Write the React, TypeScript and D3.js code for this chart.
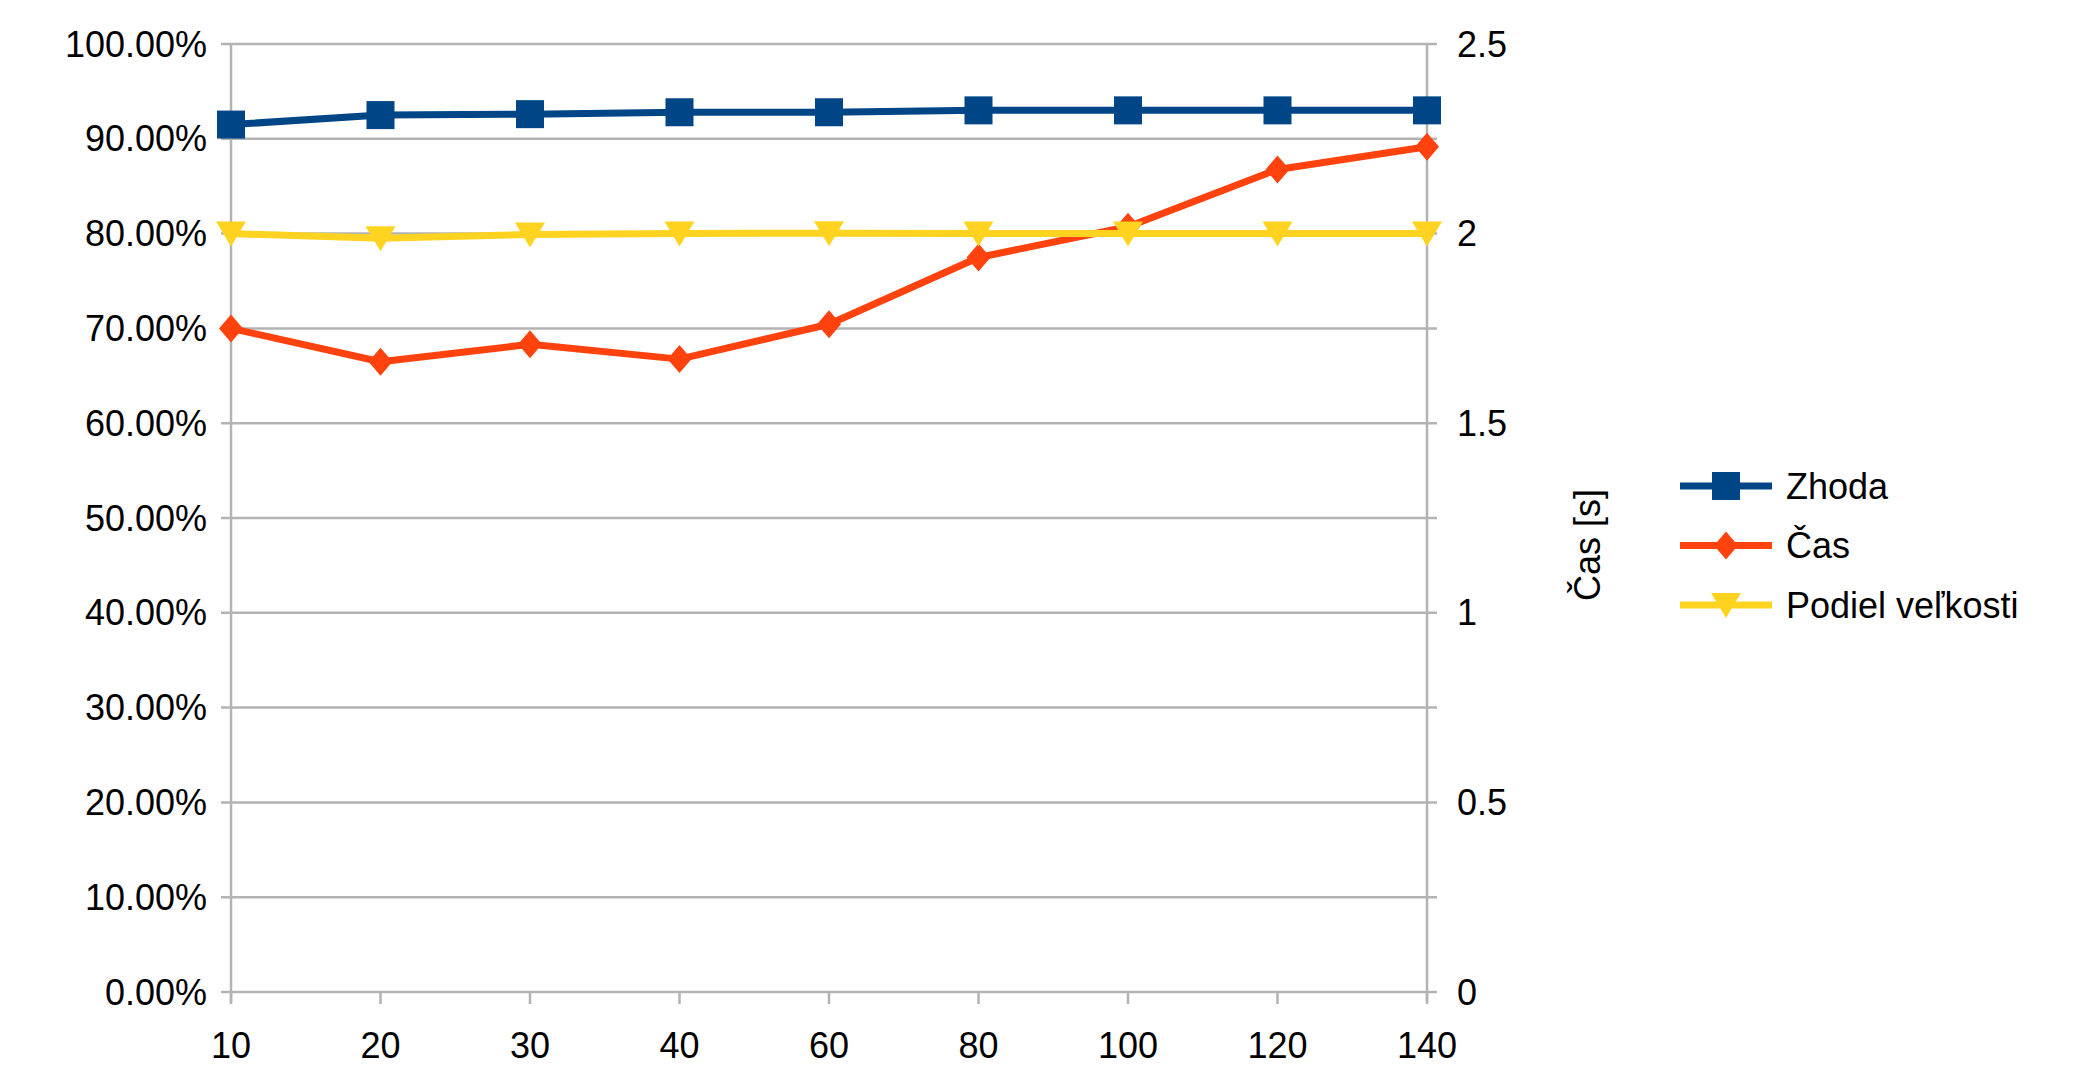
import React from 'react';
import * as d3 from 'd3';

const categories = ['10', '20', '30', '40', '60', '80', '100', '120', '140'];
const zhoda = [91.5, 92.5, 92.6, 92.8, 92.8, 93.0, 93.0, 93.0, 93.0];
const cas = [1.75, 1.662, 1.708, 1.669, 1.761, 1.937, 2.018, 2.169, 2.229];
const podiel = [80.0, 79.5, 79.9, 80.0, 80.05, 80.0, 80.0, 80.0, 80.0];
const leftTicks = [0, 10, 20, 30, 40, 50, 60, 70, 80, 90, 100];
const rightTicks = [0, 0.5, 1, 1.5, 2, 2.5];

const W = 2083, H = 1085;
const L = 231, R = 1427, T = 44, B = 992;
const font = 'Liberation Sans, Arial, sans-serif';
const grid = '#b3b3b3';

const App: React.FC = () => {
  const x = d3.scalePoint<string>().domain(categories).range([L, R]);
  const yl = d3.scaleLinear().domain([0, 100]).range([B, T]);
  const yr = d3.scaleLinear().domain([0, 2.5]).range([B, T]);
  const line = d3.line<number>().x((_, i) => x(categories[i])!);

  const square = (cx: number, cy: number, c: string, k: string) => (
    <rect key={k} x={cx - 14} y={cy - 14} width={28} height={28} fill={c} />
  );
  const diamond = (cx: number, cy: number, c: string, k: string) => (
    <path key={k} d={`M${cx},${cy - 14}L${cx + 12},${cy}L${cx},${cy + 14}L${cx - 12},${cy}Z`} fill={c} />
  );
  const tri = (cx: number, cy: number, c: string, k: string) => (
    <path key={k} d={`M${cx - 15},${cy - 12}L${cx + 15},${cy - 12}L${cx},${cy + 13}Z`} fill={c} />
  );

  const series = [
    { name: 'Zhoda', vals: zhoda, y: yl, color: '#004586', marker: square },
    { name: 'Čas', vals: cas, y: yr, color: '#ff420e', marker: diamond },
    { name: 'Podiel veľkosti', vals: podiel, y: yl, color: '#ffd320', marker: tri },
  ];

  return (
    <svg width={W} height={H} style={{ position: 'absolute', left: 0, top: 0 }} fontFamily={font}>
      <rect width={W} height={H} fill="#fff" />
      {leftTicks.map((t) => (
        <g key={t}>
          <line x1={L - 10} x2={R + 10} y1={yl(t)} y2={yl(t)} stroke={grid} strokeWidth={2.5} />
          <text x={L - 24} y={yl(t)} dy="0.35em" textAnchor="end" fontSize={36}>{t.toFixed(2)}%</text>
        </g>
      ))}
      {rightTicks.map((t) => (
        <text key={t} x={R + 30} y={yr(t)} dy="0.35em" fontSize={36}>{t}</text>
      ))}
      <line x1={L} x2={L} y1={T} y2={B + 10} stroke={grid} strokeWidth={2.5} />
      <line x1={R} x2={R} y1={T} y2={B + 10} stroke={grid} strokeWidth={2.5} />
      {categories.map((c) => (
        <g key={c}>
          <line x1={x(c)} x2={x(c)} y1={B} y2={B + 12} stroke={grid} strokeWidth={2.5} />
          <text x={x(c)} y={1058} textAnchor="middle" fontSize={36}>{c}</text>
        </g>
      ))}
      {series.map((s) => (
        <g key={s.name}>
          <path d={line.y((v) => s.y(v))(s.vals)!} fill="none" stroke={s.color} strokeWidth={7} strokeLinejoin="round" />
          {s.vals.map((v, i) => s.marker(x(categories[i])!, s.y(v), s.color, s.name + i))}
        </g>
      ))}
      <text transform={`translate(1600,545) rotate(-90)`} textAnchor="middle" fontSize={36}>Čas [s]</text>
      {series.map((s, i) => {
        const cy = 486 + i * 59.5;
        return (
          <g key={s.name}>
            <line x1={1680} x2={1772} y1={cy} y2={cy} stroke={s.color} strokeWidth={7} />
            {s.marker(1726, cy, s.color, 'l' + i)}
            <text x={1786} y={cy} dy="0.35em" fontSize={36}>{s.name}</text>
          </g>
        );
      })}
    </svg>
  );
};

export default App;
